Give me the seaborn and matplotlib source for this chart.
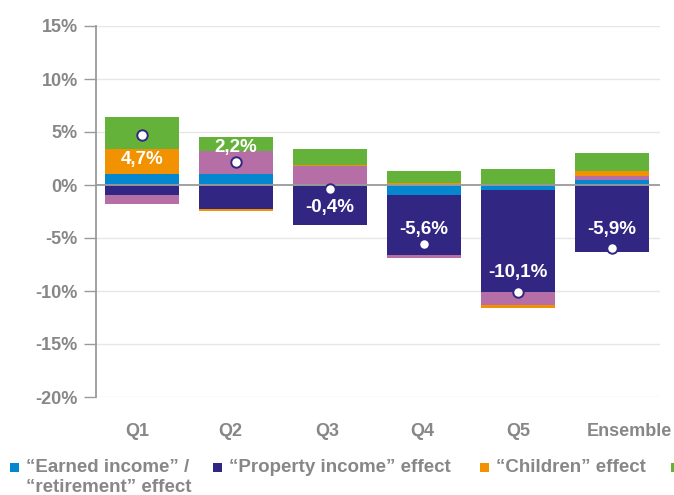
import matplotlib
matplotlib.use("Agg")
import matplotlib.pyplot as plt
from matplotlib.patches import Rectangle
from matplotlib.transforms import ScaledTranslation
import numpy as np
import pandas as pd
import seaborn as sns

# Decomposition of the change in living standard, by quintile (in %)
categories = ["Q1", "Q2", "Q3", "Q4", "Q5", "Ensemble"]
earned = [1.04, 1.04, -0.05, -0.95, -0.45, 0.47]
property_inc = [-0.94, -2.30, -3.70, -5.65, -9.60, -6.30]
other_pink = [-0.85, 2.20, 1.83, -0.30, -1.30, 0.41]
children = [2.36, -0.15, 0.07, 0.20, -0.25, 0.44]
other_green = [3.05, 1.30, 1.45, 1.10, 1.50, 1.73]
total = [4.7, 2.2, -0.4, -5.6, -10.1, -5.9]
total_labels = ["4,7%", "2,2%", "-0,4%", "-5,6%", "-10,1%", "-5,9%"]
y_ticks = [15, 10, 5, 0, -5, -10, -15, -20]

legend_labels = ["\u201cEarned income\u201d /\n\u201cretirement\u201d effect",
                 "\u201cProperty income\u201d effect",
                 "\u201cChildren\u201d effect"]

BLUE = "#0587CF"
NAVY = "#312682"
PINK = "#B66FA6"
ORANGE = "#F39200"
GREEN = "#64B23A"
GREY = "#878787"

series = [(earned, BLUE), (property_inc, NAVY), (other_pink, PINK),
          (children, ORANGE), (other_green, GREEN)]

sns.set_theme(style="white")
plt.rcParams["font.family"] = ["Liberation Sans", "DejaVu Sans"]
plt.rcParams["font.weight"] = "bold"

W, H = 674, 495
fig = plt.figure(figsize=(W / 100, H / 100), dpi=100)
ax = fig.add_axes([96 / W, 1 - 397 / H, 564 / W, 371 / H])

# grid lines behind the bars, zero line on top
for t in y_ticks:
    ax.axhline(t, color="#E6E6E6" if t != 0 else "#9A9A9A", lw=1.0 if t else 1.3,
               zorder=0 if t else 3)

# diverging stacked bars: positives stack upward, negatives downward
pos_base = np.zeros(len(categories))
neg_base = np.zeros(len(categories))
for vals, col in series:
    v = np.asarray(vals, dtype=float)
    bottom = np.where(v >= 0, pos_base, neg_base)
    df = pd.DataFrame({"cat": categories, "val": v})
    sns.barplot(data=df, x="cat", y="val", order=categories, color=col,
                saturation=1, width=0.79, bottom=bottom, linewidth=0,
                errorbar=None, ax=ax, zorder=2)
    pos_base = pos_base + np.where(v > 0, v, 0)
    neg_base = neg_base + np.where(v < 0, v, 0)

# overall change markers
dft = pd.DataFrame({"cat": categories, "total": total})
sns.pointplot(data=dft, x="cat", y="total", order=categories, linestyle="none",
              markers="o", color=NAVY, markerfacecolor="white",
              markeredgecolor=NAVY, markeredgewidth=1.4, markersize=7.5,
              errorbar=None, ax=ax, zorder=5)

label_offsets = [-24, 14, -18, 15, 20, 18]  # pixels, label relative to marker
for i, (t, lab) in enumerate(zip(total, total_labels)):
    ax.annotate(lab, xy=(i, t), xytext=(0, label_offsets[i]),
                textcoords="offset pixels", ha="center", va="center",
                color="white", fontsize=13.5, fontweight="bold", zorder=6)

ax.set_xlim(-0.49, 5.51)
ax.set_ylim(-20, 15)
ax.set_yticks(y_ticks)
ax.set_yticklabels([f"{t}%" for t in y_ticks])
ax.set_xlabel("")
ax.set_ylabel("")
for s in ["top", "right", "bottom"]:
    ax.spines[s].set_visible(False)
ax.spines["left"].set_color("#9A9A9A")
ax.spines["left"].set_linewidth(1.3)
ax.tick_params(axis="y", which="both", left=True, length=9, width=1.0,
               color="#9A9A9A", pad=4, labelsize=13, labelcolor=GREY)
ax.tick_params(axis="x", bottom=False, pad=13, labelsize=13, labelcolor=GREY)
for lab in ax.get_xticklabels() + ax.get_yticklabels():
    lab.set_fontweight("bold")

# nudge category labels horizontally (pixels)
x_label_shift = [-5, -6, -3, -2, 0, 17]
for lab, dx in zip(ax.get_xticklabels(), x_label_shift):
    lab.set_transform(lab.get_transform() + ScaledTranslation(dx / 100, 0, fig.dpi_scale_trans))

# legend along the bottom edge
legend_items = [(BLUE, legend_labels[0], 9.5), (NAVY, legend_labels[1], 213),
                (ORANGE, legend_labels[2], 480)]
for col, text, xpx in legend_items:
    fig.add_artist(Rectangle((xpx / W, 1 - 472 / H), 9 / W, 9 / H,
                             transform=fig.transFigure, color=col, lw=0))
    fig.text((xpx + 16) / W, 1 - 459 / H, text, ha="left", va="top",
             color=GREY, fontsize=13.5, fontweight="bold", linespacing=1.22)
fig.add_artist(Rectangle((671 / W, 1 - 472 / H), 9 / W, 9 / H,
                         transform=fig.transFigure, color=GREEN, lw=0))

fig.savefig("out.png", dpi=100)
